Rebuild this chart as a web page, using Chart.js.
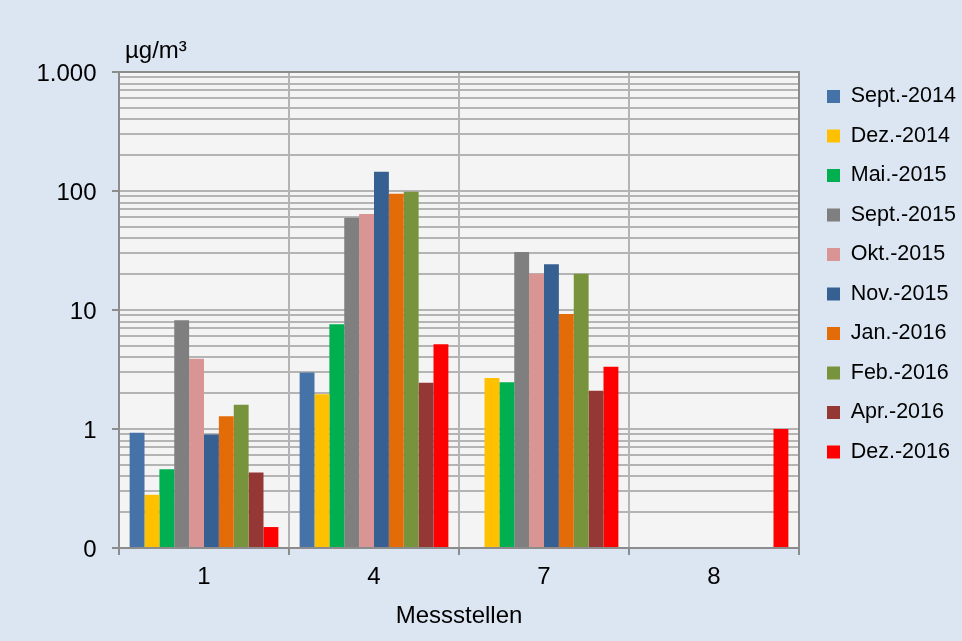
<!DOCTYPE html>
<html>
<head>
<meta charset="utf-8">
<script src="https://cdn.jsdelivr.net/npm/chart.js@4.4.0/dist/chart.umd.min.js"></script>
<style>
html, body { margin: 0; padding: 0; background: #DCE6F2; }
canvas { display: block; }
</style>
</head>
<body>
<canvas id="c" width="962" height="641"></canvas>
<script>
// ---------- data ----------
const CATEGORIES = ['1', '4', '7', '8'];
const SERIES_LABELS = ['Sept.-2014', 'Dez.-2014', 'Mai.-2015', 'Sept.-2015', 'Okt.-2015',
                       'Nov.-2015', 'Jan.-2016', 'Feb.-2016', 'Apr.-2016', 'Dez.-2016'];
const SEPT_2014 = [0.93, 2.99, null, null];
const DEZ_2014  = [0.28, 1.96, 2.68, null];
const MAI_2015  = [0.46, 7.6, 2.47, null];
const SEPT_2015 = [8.2, 59.5, 30.7, null];
const OKT_2015  = [3.9, 64, 20.2, null];
const NOV_2015  = [0.9, 145, 24.2, null];
const JAN_2016  = [1.28, 95, 9.25, null];
const FEB_2016  = [1.6, 98.5, 20.2, null];
const APR_2016  = [0.43, 2.45, 2.1, null];
const DEZ_2016  = [0.15, 5.15, 3.34, 1.0];
const SERIES_VALUES = [SEPT_2014, DEZ_2014, MAI_2015, SEPT_2015, OKT_2015,
                       NOV_2015, JAN_2016, FEB_2016, APR_2016, DEZ_2016];
const Y_TICK_VALUES = [0.1, 1, 10, 100, 1000];
const Y_TICK_LABELS = ['0', '1', '10', '100', '1.000'];
const Y_UNIT = 'µg/m³';
const X_TITLE = 'Messstellen';

// ---------- styles ----------
const SERIES_COLORS = ['#4572A7', '#FFC000', '#00B050', '#7F7F7F', '#D99594',
                       '#366092', '#E36C09', '#77933C', '#953735', '#FF0000'];
const FONT_FAMILY = "'Liberation Sans', Arial, sans-serif";
const MAIN_SIZE = 24;
const LEGEND_SIZE = 21.5;
const GRID_COLOR = '#b4b4b4';
const FRAME_COLOR = '#8c8c8c';
const PLOT_BG = '#F4F4F4';

Chart.defaults.color = '#000';
Chart.defaults.font.family = FONT_FAMILY;

// minor + major log ticks
function logTicks(min, max) {
  const out = [];
  for (let e = Math.round(Math.log10(min)); e < Math.round(Math.log10(max)); e++) {
    for (let m = 1; m <= 9; m++) out.push(parseFloat((m * Math.pow(10, e)).toPrecision(6)));
  }
  out.push(max);
  return out;
}
const isMajor = v => Y_TICK_VALUES.some(t => Math.abs(t - v) < 1e-9);

const layoutPlugin = {
  id: 'layoutTweak',
  beforeLayout(chart) {
    const lg = chart.legend;
    if (lg && !lg._patched) {
      const f = lg.fit;
      lg.fit = function () { f.call(this); if (!this.isHorizontal()) this.width = 163; };
      lg._patched = true;
    }
  },
  afterLayout(chart) {
    const lg = chart.legend;
    if (lg) {
      const pad = lg.options.labels.padding;
      lg.left = 827 - pad;
      lg.right = chart.width;
      lg.top = 67.75;
      lg.bottom = chart.height;
    }
    const tb = chart.titleBlock;
    if (tb) {
      tb.left = chart.chartArea.left + 6;
      tb.right = chart.chartArea.right;
    }
  },
  beforeDraw(chart) {
    const {ctx, chartArea: a} = chart;
    ctx.save();
    ctx.fillStyle = PLOT_BG;
    ctx.fillRect(a.left, a.top, a.right - a.left, a.bottom - a.top);
    ctx.restore();
  },
  afterDatasetsDraw(chart) {
    const {ctx, chartArea: a} = chart;
    ctx.save();
    ctx.strokeStyle = FRAME_COLOR;
    ctx.lineWidth = 2;
    ctx.strokeRect(a.left, a.top, a.right - a.left, a.bottom - a.top);
    ctx.restore();
  }
};

new Chart(document.getElementById('c'), {
  type: 'bar',
  data: {
    labels: CATEGORIES,
    datasets: SERIES_LABELS.map((lab, i) => ({
      label: lab,
      data: SERIES_VALUES[i],
      backgroundColor: SERIES_COLORS[i],
      borderWidth: 0,
      categoryPercentage: 0.875,
      barPercentage: 1.0
    }))
  },
  plugins: [layoutPlugin],
  options: {
    responsive: false,
    animation: false,
    layout: { padding: { left: 0, right: 0, top: 0, bottom: 0 } },
    plugins: {
      tooltip: { enabled: false },
      title: {
        display: true,
        text: Y_UNIT,
        align: 'start',
        fullSize: false,
        color: '#000',
        font: { size: MAIN_SIZE, weight: 'normal', family: FONT_FAMILY },
        padding: { top: 37.2, bottom: 6 }
      },
      legend: {
        position: 'right',
        align: 'start',
        labels: {
          boxWidth: 13,
          boxHeight: 13,
          padding: 18,
          color: '#000',
          font: { size: LEGEND_SIZE, family: FONT_FAMILY },
          generateLabels: chart => Chart.defaults.plugins.legend.labels.generateLabels(chart)
            .map(l => Object.assign(l, { lineWidth: 0, strokeStyle: 'rgba(0,0,0,0)' }))
        }
      }
    },
    scales: {
      x: {
        type: 'category',
        offset: true,
        afterFit: s => { s.height = 93; },
        grid: {
          display: true,
          offset: true,
          color: GRID_COLOR,
          lineWidth: 2,
          tickLength: 7,
          tickColor: FRAME_COLOR,
          tickWidth: 2
        },
        border: { display: false },
        ticks: {
          padding: 8.4,
          font: { size: MAIN_SIZE },
          color: '#000'
        },
        title: {
          display: true,
          text: X_TITLE,
          color: '#000',
          font: { size: MAIN_SIZE },
          padding: { top: 0, bottom: 10 }
        }
      },
      y: {
        type: 'logarithmic',
        min: Y_TICK_VALUES[0],
        max: Y_TICK_VALUES[Y_TICK_VALUES.length - 1],
        afterFit: s => { s.width = 119; },
        afterBuildTicks: s => {
          s.ticks = logTicks(Y_TICK_VALUES[0], Y_TICK_VALUES[Y_TICK_VALUES.length - 1]).map(v => ({ value: v, major: isMajor(v) }));
        },
        grid: {
          color: GRID_COLOR,
          lineWidth: 2,
          tickLength: 7,
          tickWidth: 2,
          tickColor: ctx => (ctx.tick && isMajor(ctx.tick.value)) ? FRAME_COLOR : 'rgba(0,0,0,0)'
        },
        border: { display: false },
        ticks: {
          autoSkip: false,
          padding: 15.5,
          labelOffset: 2,
          font: { size: MAIN_SIZE },
          color: '#000',
          callback: v => {
            const idx = Y_TICK_VALUES.findIndex(t => Math.abs(t - v) < 1e-9);
            return idx >= 0 ? Y_TICK_LABELS[idx] : '';
          }
        }
      }
    }
  }
});
</script>
</body>
</html>
